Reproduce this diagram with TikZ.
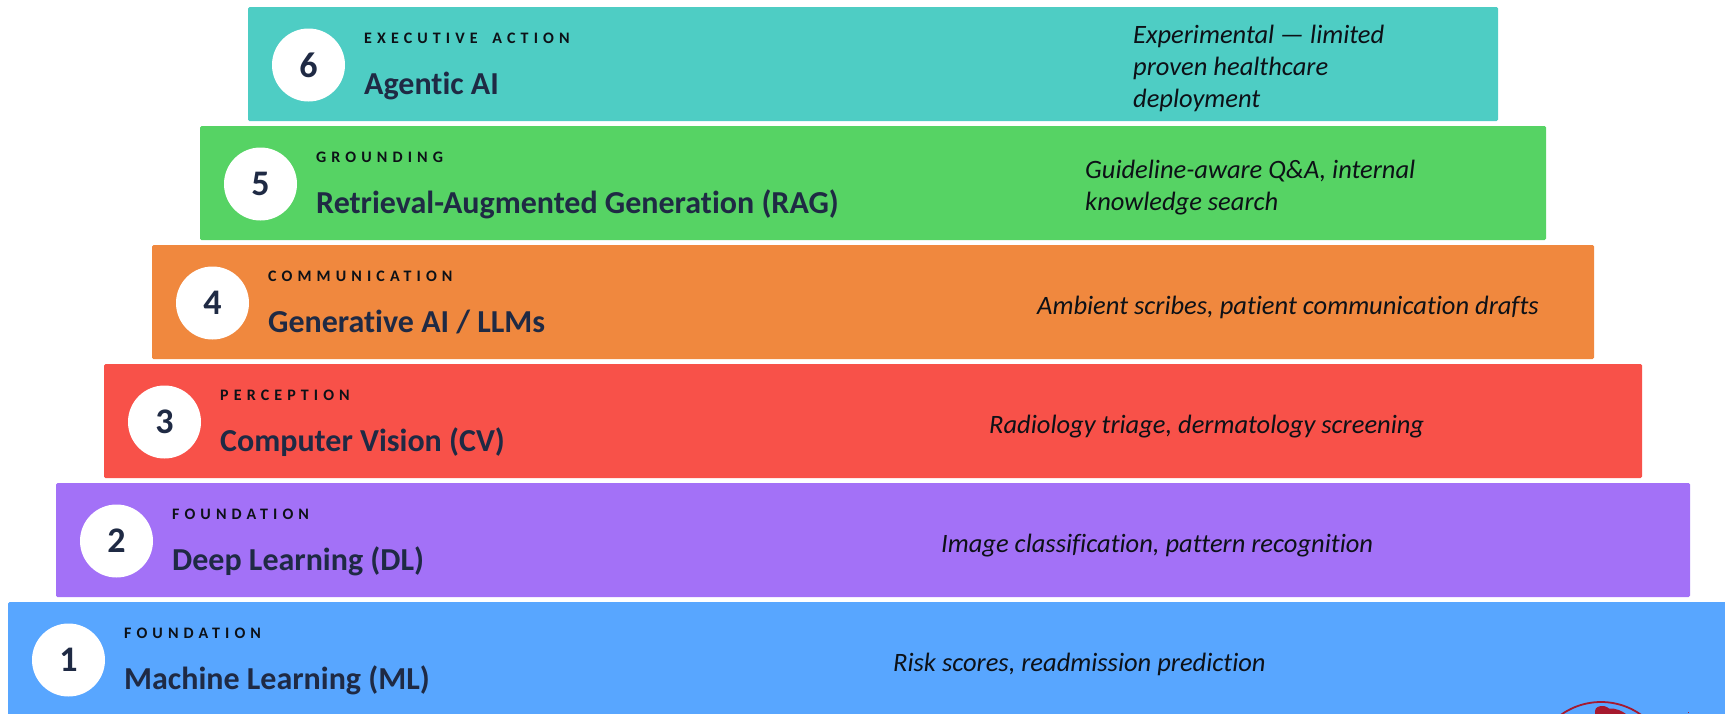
\documentclass[tikz,border=0pt]{standalone}
\usepackage{fontspec}
\setmainfont[Ligatures={NoCommon,TeX}]{Carlito}
\definecolor{ink}{HTML}{1F2A44}
\definecolor{note}{HTML}{0D1117}
\definecolor{cA}{HTML}{58A6FF}
\definecolor{cB}{HTML}{A371F7}
\definecolor{cC}{HTML}{F85149}
\definecolor{cD}{HTML}{F0883E}
\definecolor{cE}{HTML}{56D364}
\definecolor{cF}{HTML}{4ECDC4}
\definecolor{logo}{HTML}{A6192E}
\tikzset{
  x=1pt,y=-1pt,
  badge/.style={circle,fill=white,minimum size=73pt,inner sep=0pt,text=ink,font=\fontsize{36}{36}\selectfont\bfseries},
  kicker/.style={anchor=base west,inner sep=0pt,text=note,font=\fontsize{16}{16}\selectfont\bfseries},
  headline/.style={anchor=base west,inner sep=0pt,text=ink,font=\fontsize{32}{32}\selectfont\bfseries},
  usecase/.style={anchor=base west,inner sep=0pt,text=note,font=\fontsize{26.5}{32}\selectfont\itshape},
}
\newcommand{\spc}[1]{\addfontfeatures{LetterSpace=32}#1}
\begin{document}
\begin{tikzpicture}
\useasboundingbox (0,0) rectangle (1725,713);
% bars
\fill[cF,rounded corners=1.5pt] (248,7) rectangle (1498,121);
\fill[cE,rounded corners=1.5pt] (200,126) rectangle (1546,240);
\fill[cD,rounded corners=1.5pt] (152,245) rectangle (1594,359);
\fill[cC,rounded corners=1.5pt] (104,364) rectangle (1642,478);
\fill[cB,rounded corners=1.5pt] (56,483) rectangle (1690,597);
\fill[cA,rounded corners=1.5pt] (8,602) rectangle (1730,720);
% badges
\node[badge] (n6) at (308.5,65) {6};
\node[badge] (n5) at (260.5,184) {5};
\node[badge] (n4) at (212.5,303) {4};
\node[badge] (n3) at (164.5,422) {3};
\node[badge] (n2) at (116.5,541) {2};
\node[badge] (n1) at (68.5,660) {1};
% kickers
\node[kicker] (k6) at (364,43) {\spc{EXECUTIVE\hspace{6pt} ACTION}};
\node[kicker] (k5) at (316,162) {\spc{GROUNDING}};
\node[kicker] (k4) at (268,281) {\spc{COMMUNICATION}};
\node[kicker] (k3) at (220,400) {\spc{PERCEPTION}};
\node[kicker] (k2) at (172,519) {\spc{FOUNDATION}};
\node[kicker] (k1) at (124,638) {\spc{FOUNDATION}};
% titles
\node[headline] (t6) at (364,94) {Agentic AI};
\node[headline] (t5) at (316,213) {Retrieval-Augmented Generation (RAG)};
\node[headline] (t4) at (268,332) {Generative AI / LLMs};
\node[headline] (t3) at (220,451) {Computer Vision (CV)};
\node[headline] (t2) at (172,570) {Deep Learning (DL)};
\node[headline] (t1) at (124,689) {Machine Learning (ML)};
% use cases
\node[usecase] (u6a) at (1133,43) {Experimental — limited};
\node[usecase] (u6b) at (1133,75) {proven healthcare};
\node[usecase] (u6c) at (1133,107) {deployment};
\node[usecase] (u5a) at (1085,178) {Guideline-aware Q\&A, internal};
\node[usecase] (u5b) at (1085,210) {knowledge search};
\node[usecase] (u4) at (1037,314) {Ambient scribes, patient communication drafts};
\node[usecase] (u3) at (989,433) {Radiology triage, dermatology screening};
\node[usecase] (u2) at (941,552) {Image classification, pattern recognition};
\node[usecase] (u1) at (893,671) {Risk scores, readmission prediction};
% logo fragment
\begin{scope}
\clip (0,0) rectangle (1725,713);
\draw[logo,line width=1.8pt] (1601,771) circle (69);
\fill[logo] (1595,711) .. controls (1595,707) and (1600,705.5) .. (1604,706) .. controls (1607,706.5) and (1608,708) .. (1609,708.5) .. controls (1616,708) and (1622,711) .. (1626,714) -- (1595,714) -- cycle;
\fill[logo] (1688,711.5) rectangle (1689,713);
\end{scope}
\end{tikzpicture}
\end{document}
